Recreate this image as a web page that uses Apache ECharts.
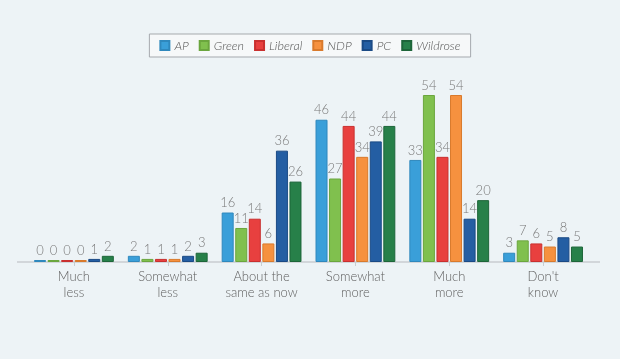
<!DOCTYPE html>
<html>
<head>
<meta charset="utf-8">
<script src="https://cdn.jsdelivr.net/npm/echarts@6/dist/echarts.min.js"></script>
<style>
html,body{margin:0;padding:0;background:#edf3f6;}
#c{width:620px;height:359px;}
</style>
</head>
<body>
<div id="c"></div>
<script>
var categories = ["Much\nless", "Somewhat\nless", "About the\nsame as now", "Somewhat\nmore", "Much\nmore", "Don't\nknow"];
var seriesNames = ["AP", "Green", "Liberal", "NDP", "PC", "Wildrose"];
var AP = [0, 2, 16, 46, 33, 3];
var Green = [0, 1, 11, 27, 54, 7];
var Liberal = [0, 1, 14, 44, 34, 6];
var NDP = [0, 1, 6, 34, 54, 5];
var PC = [1, 2, 36, 39, 14, 8];
var Wildrose = [2, 3, 26, 44, 20, 5];

var values = [AP, Green, Liberal, NDP, PC, Wildrose];
var colors = ["#3a9fd9", "#80c04e", "#e8403f", "#f6913f", "#245ea3", "#278049"];
var borders = ["#2f88bd", "#6ba63e", "#c9302f", "#d97a2c", "#1a4a85", "#1d6539"];

var chart = echarts.init(document.getElementById('c'));
var series = seriesNames.map(function (n, i) {
  return {
    name: n,
    type: 'bar',
    data: values[i],
    barWidth: 12,
    barGap: '13%',
    barMinHeight: 2,
    itemStyle: { color: colors[i], borderColor: borders[i], borderWidth: 1 },
    label: {
      show: true, position: 'top', distance: 3,
      color: '#7a7a7a', fontFamily: 'Lato', fontWeight: 300, fontSize: 13
    }
  };
});

chart.setOption({
  backgroundColor: '#edf3f6',
  animation: false,
  legend: {
    top: 34, left: 'center',
    data: seriesNames,
    itemWidth: 9, itemHeight: 9, itemGap: 10,
    icon: 'rect',
    padding: [5, 10, 5, 10],
    borderColor: '#a5a9ad', borderWidth: 1,
    backgroundColor: '#f6f8f9',
    textStyle: { fontFamily: 'Lato', fontStyle: 'italic', fontWeight: 300, fontSize: 12.5, color: '#555' }
  },
  grid: { left: 27, right: 30, top: 95, bottom: 97 },
  xAxis: {
    type: 'category',
    data: categories,
    axisLine: { show: false },
    axisTick: { show: true, alignWithLabel: true, length: 4, lineStyle: { color: '#c8cdd0' } },
    axisLabel: { interval: 0, color: '#606060', fontFamily: 'Lato', fontWeight: 300, fontSize: 13, lineHeight: 16, margin: 7 }
  },
  yAxis: {
    type: 'value', min: 0, max: 54, show: false, splitLine: { show: false }
  },
  graphic: [{
    type: 'line', z: 0,
    shape: { x1: 17, y1: 262, x2: 600, y2: 262 },
    style: { stroke: '#c8cdd0', lineWidth: 1.5 }
  }],
  series: series
});
</script>
</body>
</html>
